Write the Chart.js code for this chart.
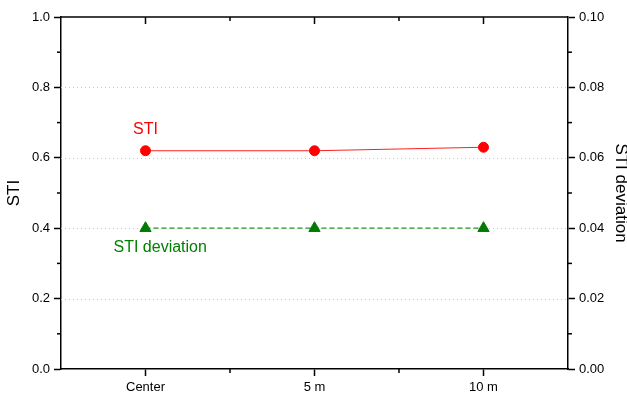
<!DOCTYPE html>
<html>
<head>
<meta charset="utf-8">
<script src="https://cdn.jsdelivr.net/npm/chart.js@4/dist/chart.umd.min.js"></script>
<style>
html,body{margin:0;padding:0;background:#fff;}
#wrap{width:627px;height:397px;position:relative;}
</style>
</head>
<body>
<div id="wrap"><canvas id="c" width="627" height="397"></canvas></div>
<script>
// ---- data ----
const categories = ['Center', '5 m', '10 m'];
const stiValues = [0.62, 0.62, 0.63];
const stiDeviationValues = [0.04, 0.04, 0.04];
const leftTicks = [0.0, 0.2, 0.4, 0.6, 0.8, 1.0];
const rightTicks = [0.00, 0.02, 0.04, 0.06, 0.08, 0.10];
const seriesNames = ['STI', 'STI deviation'];
const axisTitles = ['STI', 'STI deviation'];

Chart.defaults.font.family = "'Liberation Sans', Arial, Helvetica, sans-serif";
Chart.defaults.color = '#000';

const AXIS_W = 1.5;

const framePlugin = {
  id: 'frame',
  beforeDatasetsDraw(chart) {
    const ctx = chart.ctx, a = chart.chartArea, y = chart.scales.y;
    ctx.save();
    ctx.strokeStyle = '#c8c8c8';
    ctx.lineWidth = 1;
    ctx.setLineDash([1, 3]);
    leftTicks.forEach(v => {
      if (v <= 0 || v >= 1) return;
      const py = Math.round(y.getPixelForValue(v)) + 0.5;
      ctx.beginPath(); ctx.moveTo(a.left, py); ctx.lineTo(a.right, py); ctx.stroke();
    });
    ctx.restore();
  },
  afterDraw(chart) {
    const ctx = chart.ctx, a = chart.chartArea;
    const x = chart.scales.x, y = chart.scales.y, y1 = chart.scales.y1;
    ctx.save();
    ctx.strokeStyle = '#000';
    ctx.lineWidth = AXIS_W;
    ctx.setLineDash([]);
    // top frame line
    ctx.beginPath(); ctx.moveTo(a.left, a.top); ctx.lineTo(a.right, a.top); ctx.stroke();
    // minor ticks left/right
    for (let i = 0; i < leftTicks.length - 1; i++) {
      const v = (leftTicks[i] + leftTicks[i + 1]) / 2;
      const py = y.getPixelForValue(v);
      ctx.beginPath(); ctx.moveTo(a.left - 4, py); ctx.lineTo(a.left, py); ctx.stroke();
      const v1 = (rightTicks[i] + rightTicks[i + 1]) / 2;
      const py1 = y1.getPixelForValue(v1);
      ctx.beginPath(); ctx.moveTo(a.right, py1); ctx.lineTo(a.right + 4, py1); ctx.stroke();
    }
    // category ticks: top inward major + minor; bottom minor
    categories.forEach((c, i) => {
      const px = x.getPixelForValue(i);
      ctx.beginPath(); ctx.moveTo(px, a.top); ctx.lineTo(px, a.top + 7); ctx.stroke();
      if (i < categories.length - 1) {
        const mx = (px + x.getPixelForValue(i + 1)) / 2;
        ctx.beginPath(); ctx.moveTo(mx, a.top); ctx.lineTo(mx, a.top + 4); ctx.stroke();
        ctx.beginPath(); ctx.moveTo(mx, a.bottom); ctx.lineTo(mx, a.bottom + 4); ctx.stroke();
      }
    });
    // series annotations
    ctx.font = "16px 'Liberation Sans', Arial, sans-serif";
    ctx.textBaseline = 'middle';
    ctx.textAlign = 'center';
    ctx.fillStyle = '#ff0000';
    ctx.fillText(seriesNames[0], x.getPixelForValue(0), y.getPixelForValue(0.68));
    ctx.textAlign = 'left';
    ctx.fillStyle = '#008000';
    ctx.fillText(seriesNames[1], x.getPixelForValue(0) - 32, y1.getPixelForValue(0.0344));
    ctx.restore();
  }
};

new Chart(document.getElementById('c'), {
  type: 'line',
  data: {
    labels: categories,
    datasets: [
      {
        label: seriesNames[0],
        data: stiValues,
        yAxisID: 'y',
        borderColor: '#ff2020',
        backgroundColor: '#ff0000',
        borderWidth: 1,
        pointStyle: 'circle',
        pointRadius: 5,
        pointBorderWidth: 1,
        pointBorderColor: '#ff0000',
        pointBackgroundColor: '#ff0000',
        tension: 0
      },
      {
        label: seriesNames[1],
        data: stiDeviationValues,
        yAxisID: 'y1',
        borderColor: '#1f9a1f',
        backgroundColor: '#008000',
        borderWidth: 1.2,
        borderDash: [5, 3],
        pointStyle: 'triangle',
        pointRadius: 6.5,
        pointBorderWidth: 1,
        pointBorderColor: '#007a00',
        pointBackgroundColor: '#007a00',
        tension: 0
      }
    ]
  },
  options: {
    responsive: false,
    animation: false,
    events: [],
    layout: { padding: { top: 17, left: 0, right: 0, bottom: 0 } },
    plugins: { legend: { display: false }, tooltip: { enabled: false } },
    scales: {
      x: {
        type: 'category',
        offset: true,
        grid: { display: true, drawOnChartArea: false, drawTicks: true, tickLength: 7, tickColor: '#000', tickWidth: AXIS_W, offset: false },
        border: { display: true, color: '#000', width: AXIS_W },
        ticks: { color: '#000', font: { size: 13 }, padding: 4, maxRotation: 0, autoSkip: false },
        afterFit(s) { s.height = 28; }
      },
      y: {
        position: 'left',
        min: 0, max: 1,
        afterBuildTicks(s) { s.ticks = leftTicks.map(v => ({ value: v })); },
        ticks: { color: '#000', font: { size: 13 }, padding: 4, callback: v => Number(v).toFixed(1) },
        grid: { display: true, drawOnChartArea: false, drawTicks: true, tickLength: 7, tickColor: '#000', tickWidth: AXIS_W },
        border: { display: true, color: '#000', width: AXIS_W },
        title: { display: true, text: axisTitles[0], color: '#000', font: { size: 17, lineHeight: 1 }, padding: { top: 6, bottom: 0 } },
        afterFit(s) { s.width = 61; }
      },
      y1: {
        position: 'right',
        min: 0, max: 0.1,
        afterBuildTicks(s) { s.ticks = rightTicks.map(v => ({ value: v })); },
        ticks: { color: '#000', font: { size: 13 }, padding: 4, callback: v => Number(v).toFixed(2) },
        grid: { display: true, drawOnChartArea: false, drawTicks: true, tickLength: 7, tickColor: '#000', tickWidth: AXIS_W },
        border: { display: true, color: '#000', width: AXIS_W },
        title: { display: true, text: axisTitles[1], color: '#000', font: { size: 17, lineHeight: 1 }, padding: { top: -2, bottom: 0 } },
        afterFit(s) { s.width = 59; }
      }
    }
  },
  plugins: [framePlugin]
});
</script>
</body>
</html>
